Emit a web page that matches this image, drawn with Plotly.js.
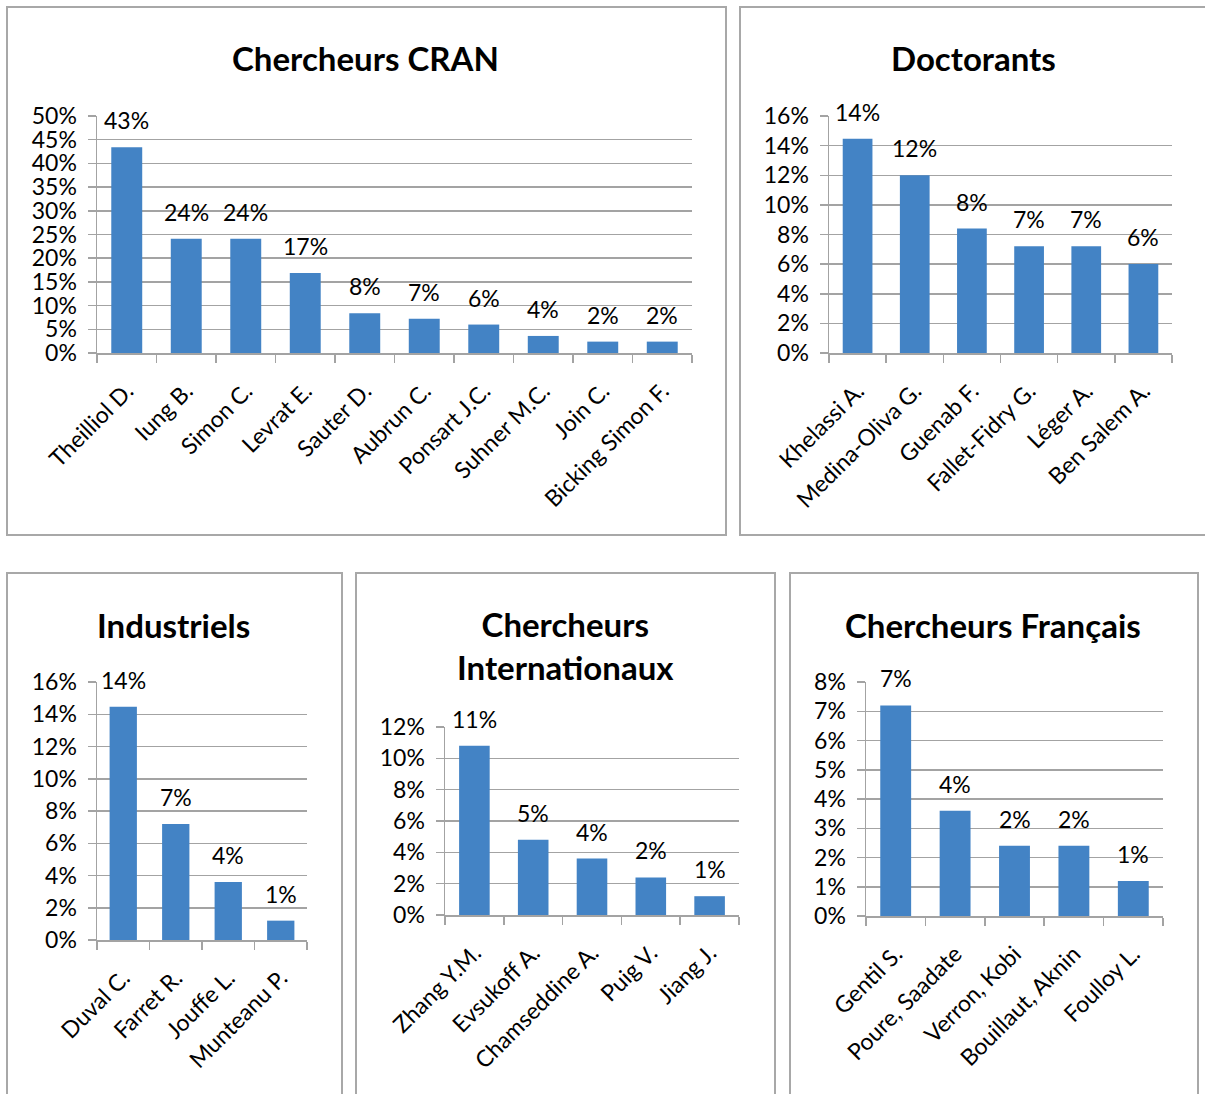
<!DOCTYPE html>
<html>
<head>
<meta charset="utf-8">
<script src="https://cdn.plot.ly/plotly-3.0.1.min.js"></script>
<style>html,body{margin:0;padding:0;background:#fff;}#chart{width:1205px;height:1094px;}</style>
</head>
<body>
<div id="chart"></div>
<script>
// ---- Data ----
const cranNames = ["Theilliol D.", "Iung B.", "Simon C.", "Levrat E.", "Sauter D.", "Aubrun C.", "Ponsart J.C.", "Suhner M.C.", "Join C.", "Bicking Simon F."];
const cranValues = [0.434, 0.241, 0.241, 0.169, 0.084, 0.072, 0.060, 0.036, 0.024, 0.024];

const doctNames = ["Khelassi A.", "Medina-Oliva G.", "Guenab F.", "Fallet-Fidry G.", "Léger A.", "Ben Salem A."];
const doctValues = [0.1446, 0.120, 0.084, 0.072, 0.072, 0.060];

const induNames = ["Duval C.", "Farret R.", "Jouffe L.", "Munteanu P."];
const induValues = [0.1446, 0.072, 0.036, 0.012];

const interNames = ["Zhang Y.M.", "Evsukoff A.", "Chamseddine A.", "Puig V.", "Jiang J."];
const interValues = [0.108, 0.048, 0.036, 0.024, 0.012];

const frNames = ["Gentil S.", "Poure, Saadate", "Verron, Kobi", "Bouillaut, Aknin", "Foulloy L."];
const frValues = [0.072, 0.036, 0.024, 0.024, 0.012];

const titles = ["Chercheurs CRAN", "Doctorants", "Industriels", "Chercheurs<br>Internationaux", "Chercheurs Français"];

// ---- Layout helpers ----
const W = 1205, H = 1094;
const FONT = "Lato, 'Open Sans', sans-serif";
const GRID = "#a3a3a3";
const BAR = "#4383c5";
const FS = 23;

const panels = [
  {names: cranNames, values: cranValues, px: [97, 692], py: [116, 353], range: [0, 0.5], dtick: 0.05, title: titles[0], tx: 366, ty: 58},
  {names: doctNames, values: doctValues, px: [829, 1172], py: [116, 353], range: [0, 0.16], dtick: 0.02, title: titles[1], tx: 973, ty: 58},
  {names: induNames, values: induValues, px: [97, 307], py: [682, 940], range: [0, 0.16], dtick: 0.02, title: titles[2], tx: 174, ty: 625},
  {names: interNames, values: interValues, px: [445, 739], py: [727, 915], range: [0, 0.12], dtick: 0.02, title: titles[3], tx: 565, ty: 645},
  {names: frNames, values: frValues, px: [866, 1163], py: [682, 916], range: [0, 0.08], dtick: 0.01, title: titles[4], tx: 993, ty: 625}
];

const boxes = [[7, 7, 726, 535], [740, 7, 1212, 535], [7, 573, 342, 1100], [356, 573, 775, 1100], [790, 573, 1198, 1100]];

const data = [];
const layout = {
  width: W, height: H,
  margin: {l: 0, r: 0, t: 0, b: 0},
  paper_bgcolor: "#fff", plot_bgcolor: "rgba(0,0,0,0)",
  showlegend: false,
  bargap: 0.48,
  font: {family: FONT, size: FS, color: "#000"},
  annotations: [],
  shapes: []
};

panels.forEach((p, i) => {
  const k = i === 0 ? "" : String(i + 1);
  data.push({
    type: "bar",
    x: p.names, y: p.values,
    xaxis: "x" + k, yaxis: "y" + k,
    marker: {color: BAR, line: {width: 0}},
    hoverinfo: "skip"
  });
  layout["xaxis" + k] = {
    domain: [p.px[0] / W, p.px[1] / W],
    anchor: "y" + k,
    type: "category",
    showgrid: false,
    showline: true, linecolor: GRID, linewidth: 1.5,
    ticks: "outside", ticklen: 8, tickcolor: GRID, tickwidth: 1.5,
    tickson: "boundaries",
    tickangle: -45,
    ticklabelstandoff: 14,
    tickfont: {family: FONT, size: FS, color: "#000"},
    fixedrange: true
  };
  layout["yaxis" + k] = {
    domain: [1 - p.py[1] / H, 1 - p.py[0] / H],
    anchor: "x" + k,
    range: p.range,
    dtick: p.dtick, tick0: 0,
    tickformat: ".0%",
    showgrid: true, gridcolor: GRID, gridwidth: 1.5,
    zeroline: false,
    showline: true, linecolor: GRID, linewidth: 1.5,
    ticks: "outside", ticklen: 8, tickcolor: GRID, tickwidth: 1.5,
    ticklabelstandoff: 6,
    tickfont: {family: FONT, size: FS, color: "#000"},
    fixedrange: true
  };
  // data labels
  p.values.forEach((v, j) => {
    layout.annotations.push({
      xref: "x" + k, yref: "y" + k,
      x: p.names[j], y: v,
      text: Math.round(v * 100) + "%",
      showarrow: false, yanchor: "middle", xanchor: "center",
      yshift: 27,
      font: {family: FONT, size: FS, color: "#000"}
    });
  });
  // title
  layout.annotations.push({
    xref: "paper", yref: "paper",
    x: p.tx / W, y: 1 - p.ty / H,
    xanchor: "center", yanchor: "middle",
    text: "<b>" + p.title + "</b>",
    showarrow: false,
    font: {family: FONT, size: 33, color: "#000"}
  });
});

boxes.forEach(b => {
  layout.shapes.push({
    type: "rect", xref: "paper", yref: "paper",
    x0: b[0] / W, x1: b[2] / W, y0: 1 - b[3] / H, y1: 1 - b[1] / H,
    line: {color: "#a8a8a8", width: 2}, fillcolor: "rgba(0,0,0,0)", layer: "below"
  });
});

Plotly.newPlot("chart", data, layout, {displayModeBar: false, staticPlot: true});
</script>
</body>
</html>
